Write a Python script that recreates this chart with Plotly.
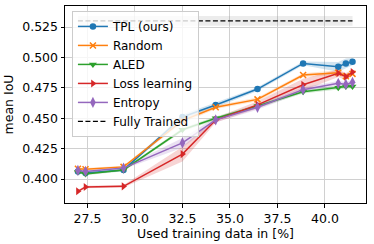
import plotly.graph_objects as go

x_data = [27.0, 27.4, 29.4, 32.5, 34.25, 36.45, 38.85, 40.7, 41.1, 41.45]

tpl_mean = [0.4063, 0.4050, 0.4075, 0.4510, 0.4609, 0.4740, 0.4951, 0.4923, 0.4951, 0.4965]
tpl_std = [0.001, 0.001, 0.001, 0.002, 0.002, 0.0015, 0.0015, 0.004, 0.004, 0.003]
rand_mean = [0.4085, 0.4080, 0.4100, 0.4480, 0.4590, 0.4655, 0.4855, 0.4875, 0.4845, 0.4865]
rand_std = [0.001, 0.001, 0.001, 0.002, 0.0015, 0.0015, 0.0015, 0.002, 0.002, 0.002]
aled_mean = [0.4058, 0.4042, 0.4075, 0.4405, 0.4500, 0.4600, 0.4718, 0.4751, 0.4760, 0.4760]
aled_std = [0.001, 0.001, 0.001, 0.0015, 0.0015, 0.0015, 0.0015, 0.0015, 0.0015, 0.0015]
loss_mean = [0.3899, 0.3935, 0.3940, 0.4205, 0.4485, 0.4610, 0.4775, 0.4870, 0.4842, 0.4880]
loss_std = [0.001, 0.001, 0.001, 0.006, 0.002, 0.003, 0.005, 0.003, 0.003, 0.002]
ent_mean = [0.4071, 0.4063, 0.4090, 0.4297, 0.4487, 0.4590, 0.4735, 0.4787, 0.4778, 0.4795]
ent_std = [0.001, 0.001, 0.001, 0.004, 0.002, 0.002, 0.002, 0.002, 0.002, 0.002]
full_mean = 0.530
full_std = 0.004

x_ticks = [27.5, 30.0, 32.5, 35.0, 37.5, 40.0]
y_ticks = [0.400, 0.425, 0.450, 0.475, 0.500, 0.525]

series = [
    ("TPL (ours)", tpl_mean, tpl_std, "#1f77b4", "circle", 6.5),
    ("Random", rand_mean, rand_std, "#ff7f0e", "x-thin", 6),
    ("ALED", aled_mean, aled_std, "#2ca02c", "triangle-down", 7),
    ("Loss learning", loss_mean, loss_std, "#d62728", "triangle-right", 7),
    ("Entropy", ent_mean, ent_std, "#9467bd", "diamond-tall", 8),
]

def rgba(hexc, a):
    h = hexc.lstrip("#")
    return "rgba(%d,%d,%d,%.2f)" % (int(h[0:2], 16), int(h[2:4], 16), int(h[4:6], 16), a)

fig = go.Figure()

# bands
for name, m, s, c, sym, sz in series:
    up = [a + b for a, b in zip(m, s)]
    lo = [a - b for a, b in zip(m, s)]
    fig.add_trace(go.Scatter(x=x_data + x_data[::-1], y=up + lo[::-1], fill="toself",
                             fillcolor=rgba(c, 0.2), line=dict(width=0), mode="lines",
                             showlegend=False, hoverinfo="skip"))

# fully trained band
fx = [x_data[0], x_data[-1]]
fig.add_trace(go.Scatter(x=fx + fx[::-1], y=[full_mean + full_std] * 2 + [full_mean - full_std] * 2,
                         fill="toself", fillcolor="rgba(128,128,128,0.15)", line=dict(width=0),
                         mode="lines", showlegend=False, hoverinfo="skip"))

for name, m, s, c, sym, sz in series:
    mk = dict(symbol=sym, size=sz, color=c)
    if sym == "x-thin":
        mk["line"] = dict(color=c, width=1.5)
    fig.add_trace(go.Scatter(x=x_data, y=m, mode="lines+markers", name=name,
                             line=dict(color=c, width=1.5), marker=mk))

fig.add_trace(go.Scatter(x=fx, y=[full_mean, full_mean], mode="lines", name="Fully Trained",
                         line=dict(color="black", width=1.3, dash="5px,2.5px")))

axis_common = dict(showline=True, linecolor="black", linewidth=1, mirror=True,
                   ticks="outside", ticklen=3.5, tickcolor="black",
                   showgrid=True, gridcolor="#d0d0d0", gridwidth=1, zeroline=False,
                   tickfont=dict(size=12.5, color="black"))

fig.update_layout(
    width=374, height=244,
    margin=dict(l=65, r=8, t=6, b=41),
    paper_bgcolor="white", plot_bgcolor="white",
    font=dict(family="DejaVu Sans", size=12.5, color="black"),
    xaxis=dict(range=[26.32, 42.16], tickvals=x_ticks, ticktext=["%.1f" % v for v in x_ticks],
               title=dict(text="Used training data in [%]", font=dict(size=12.5), standoff=2),
               automargin=False, **axis_common),
    yaxis=dict(range=[0.3803, 0.5423], tickvals=y_ticks, ticktext=["%.3f" % v for v in y_ticks],
               title=dict(text="mean IoU", font=dict(size=12.5), standoff=5),
               automargin=False, **axis_common),
    legend=dict(x=0.023, y=0.975, xanchor="left", yanchor="top",
                bgcolor="rgba(255,255,255,0.8)", bordercolor="#cccccc", borderwidth=1,
                font=dict(size=12), tracegroupgap=0, itemwidth=30),
    showlegend=True,
)

fig.write_html("out.html", config={"displayModeBar": False},
               post_script="document.body.style.margin='0';document.body.style.padding='0';")
